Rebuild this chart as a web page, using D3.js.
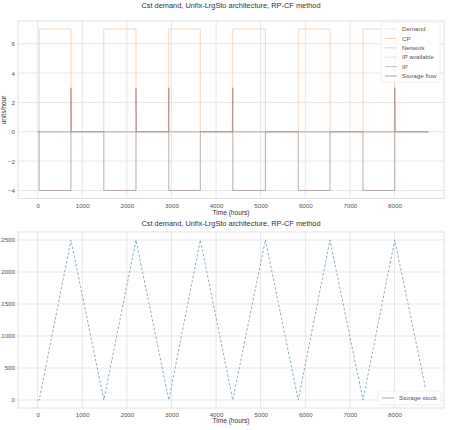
<!DOCTYPE html>
<html>
<head>
<meta charset="utf-8">
<script src="https://cdn.jsdelivr.net/npm/d3@7"></script>
<style>
html,body{margin:0;padding:0;background:#fff;}
svg{display:block;font-family:"Liberation Sans",Arial,sans-serif;}
</style>
</head>
<body>
<svg id="chart" width="472" height="430"></svg>
<script>
// ---- data (time in hours) ----
const chartTitle = "Cst demand, Unflx-LrgSto architecture, RP-CF method";
const xTicks = [0, 1000, 2000, 3000, 4000, 5000, 6000, 7000, 8000];
const yTicksTop = [-4, -2, 0, 2, 4, 6];
const yTicksBottom = [0, 500, 1000, 1500, 2000, 2500];

const demand = [[0, 0], [8760, 0]];
const cp = [[0,0],[36,0],[36,7],[747,7],[747,0],[1484,0],[1484,7],[2205,7],[2205,0],[2941,0],[2941,7],[3647,7],[3647,0],[4375,0],[4375,7],[5106,7],[5106,0],[5843,0],[5843,7],[6554,7],[6554,0],[7294,0],[7294,7],[8006,7],[8006,0],[8760,0]];
const network = [[0, 0], [8760, 0]];
const ipAvailable = [[0, 0], [8760, 0]];
const ip = [[0, 0], [8760, 0]];
const storageFlow = [[0,0],[36,0],[36,-4],[747,-4],[747,3],[757,0],[1484,0],[1484,-4],[2205,-4],[2205,3],[2215,0],[2931,0],[2941,3],[2941,-4],[3647,-4],[3647,0],[4365,0],[4375,3],[4375,-4],[5106,-4],[5106,0],[5843,0],[5843,-4],[6554,-4],[6554,0],[7294,0],[7294,-4],[8006,-4],[8006,3],[8016,0],[8760,0]];
const storageStock = [[0,0],[36,0],[747,2500],[1484,0],[2205,2500],[2941,0],[3647,2500],[4375,0],[5106,2500],[5843,0],[6554,2500],[7294,0],[8006,2500],[8700,167]];

const topSeries = [
  {name: "Demand", data: demand, color: "#f7e2cf"},
  {name: "CP", data: cp, color: "#f4c49a"},
  {name: "Network", data: network, color: "#b6dcb0"},
  {name: "IP available", data: ipAvailable, color: "#f3d3d3"},
  {name: "IP", data: ip, color: "#b3abbe"},
  {name: "Storage flow", data: storageFlow, color: "#a08a82"}
];

const svg = d3.select("#chart");
const left = 18, right = 444;
const x = d3.scaleLinear().domain([-440, 9110]).range([left, right]);

const gridColor = "#e4e4e4";
const textColor = "#555";

function panel(top, bottom, yDomain, yTicks) {
  const y = d3.scaleLinear().domain(yDomain).range([bottom, top]);
  const g = svg.append("g");
  g.append("g").selectAll("line").data(xTicks).join("line")
    .attr("x1", d => x(d)).attr("x2", d => x(d)).attr("y1", top).attr("y2", bottom)
    .attr("stroke", gridColor).attr("stroke-width", 0.9);
  g.append("g").selectAll("line").data(yTicks).join("line")
    .attr("y1", d => y(d)).attr("y2", d => y(d)).attr("x1", left).attr("x2", right)
    .attr("stroke", gridColor).attr("stroke-width", 0.9);
  g.append("rect").attr("x", left).attr("y", top).attr("width", right - left).attr("height", bottom - top)
    .attr("fill", "none").attr("stroke", "#dedede").attr("stroke-width", 0.9);
  const xa = g.append("g").attr("transform", `translate(0,${bottom})`)
    .call(d3.axisBottom(x).tickValues(xTicks).tickSize(0).tickPadding(5).tickFormat(d3.format("d")));
  xa.select(".domain").remove();
  xa.selectAll("text").attr("font-size", 6.2).attr("fill", textColor).attr("font-family", "Liberation Sans, Arial, sans-serif");
  const ya = g.append("g").attr("transform", `translate(${left},0)`)
    .call(d3.axisLeft(y).tickValues(yTicks).tickSize(0).tickPadding(3).tickFormat(d3.format("d")));
  ya.select(".domain").remove();
  ya.selectAll("text").attr("font-size", 6.2).attr("fill", textColor).attr("font-family", "Liberation Sans, Arial, sans-serif");
  return {g, y};
}

// ---- top panel ----
const T = panel(21, 198.5, [-4.55, 7.55], yTicksTop);
const lineTop = d3.line().x(d => x(d[0])).y(d => T.y(d[1]));
T.g.append("g").selectAll("path").data(topSeries).join("path")
  .attr("d", d => lineTop(d.data)).attr("fill", "none")
  .attr("stroke", d => d.color).attr("stroke-width", 0.7);

svg.append("text").attr("x", 231).attr("y", 8).attr("text-anchor", "middle")
  .attr("font-size", 7.4).attr("fill", "#333").text(chartTitle);
svg.append("text").attr("x", 231).attr("y", 214.5).attr("text-anchor", "middle")
  .attr("font-size", 6.6).attr("fill", "#333").text("Time (hours)");
svg.append("text").attr("transform", "translate(6,110) rotate(-90)").attr("text-anchor", "middle")
  .attr("font-size", 6.6).attr("fill", "#333").text("units/hour");

// legend top
const lg = svg.append("g");
lg.append("rect").attr("x", 381).attr("y", 22).attr("width", 59).attr("height", 60)
  .attr("fill", "#fff").attr("fill-opacity", 0.85).attr("stroke", "#f0f0f0").attr("rx", 2);
topSeries.forEach((s, i) => {
  const yy = 29 + i * 9.4;
  lg.append("line").attr("x1", 385).attr("x2", 397).attr("y1", yy).attr("y2", yy)
    .attr("stroke", s.color).attr("stroke-width", 0.8);
  lg.append("text").attr("x", 402).attr("y", yy + 2.2).attr("font-size", 6.2).attr("fill", textColor).text(s.name);
});

// ---- bottom panel ----
const B = panel(232, 408, [-125, 2625], yTicksBottom);
const lineB = d3.line().x(d => x(d[0])).y(d => B.y(d[1]));
B.g.append("path").attr("d", lineB(storageStock)).attr("fill", "none")
  .attr("stroke", "#6f9cb7").attr("stroke-width", 0.8).attr("stroke-dasharray", "2.6,1.8");

svg.append("text").attr("x", 231).attr("y", 226).attr("text-anchor", "middle")
  .attr("font-size", 7.4).attr("fill", "#333").text(chartTitle);
svg.append("text").attr("x", 231).attr("y", 423).attr("text-anchor", "middle")
  .attr("font-size", 6.6).attr("fill", "#333").text("Time (hours)");

const lb = svg.append("g");
lb.append("rect").attr("x", 378).attr("y", 391).attr("width", 63).attr("height", 14)
  .attr("fill", "#fff").attr("fill-opacity", 0.85).attr("stroke", "#f0f0f0").attr("rx", 2);
lb.append("line").attr("x1", 382).attr("x2", 394).attr("y1", 398).attr("y2", 398)
  .attr("stroke", "#6f9cb7").attr("stroke-width", 0.8);
lb.append("text").attr("x", 399).attr("y", 400.2).attr("font-size", 6.2).attr("fill", textColor).text("Storage stock");
</script>
</body>
</html>
